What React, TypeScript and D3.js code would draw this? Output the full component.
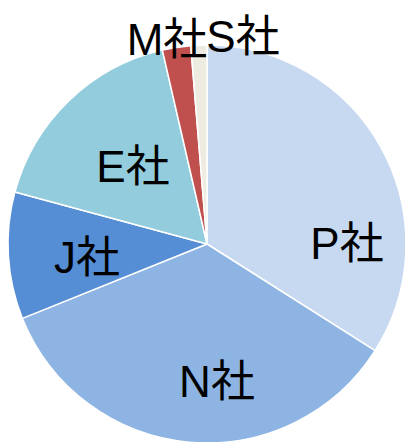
import React from "react";
import * as d3 from "d3";

const categories = ["P社", "N社", "J社", "E社", "M社", "S社"];
const shares = [34.0, 34.9, 10.3, 17.2, 2.3, 1.3];

const W = 405;
const H = 442;
const CX = 207;
const CY = 244;
const R = 199;
const COLORS = ["#c6d9f1", "#8db4e2", "#558ed5", "#93cddd", "#c0504d", "#eeece1"];
// label anchor (text baseline center) per slice, layout only
const LABEL_POS: [number, number][] = [
  [347, 259],
  [217, 397],
  [87, 273],
  [133, 182],
  [167, 55],
  [243, 52],
];

export default function App() {
  const pie = d3
    .pie<number>()
    .sort(null)
    .value((d) => d)
    .startAngle(0)
    .endAngle(2 * Math.PI);
  const arcs = pie(shares);
  const arc = d3.arc<d3.PieArcDatum<number>>().innerRadius(0).outerRadius(R);

  return (
    <svg
      width={W}
      height={H}
      style={{ position: "absolute", left: 0, top: 0, background: "#fff" }}
    >
      <g transform={`translate(${CX},${CY})`}>
        {arcs.map((a, i) => (
          <path
            key={i}
            d={arc(a) || ""}
            fill={COLORS[i]}
            stroke="#ffffff"
            strokeWidth={1.5}
            strokeLinejoin="round"
          />
        ))}
      </g>
      {categories.map((c, i) => (
        <text
          key={c}
          x={LABEL_POS[i][0]}
          y={LABEL_POS[i][1]}
          textAnchor="middle"
          fontSize={44}
          fontFamily="'Liberation Sans', 'Noto Sans CJK JP', sans-serif"
          fill="#000"
        >
          {c}
        </text>
      ))}
    </svg>
  );
}
